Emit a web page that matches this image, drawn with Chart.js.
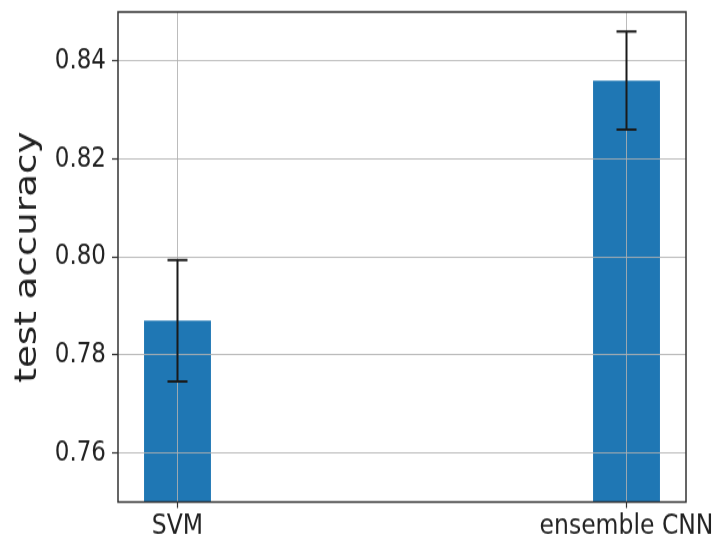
<!DOCTYPE html>
<html>
<head>
<meta charset="utf-8">
<script src="https://cdn.jsdelivr.net/npm/chart.js@4/dist/chart.umd.min.js"></script>
<style>
  html, body { margin: 0; padding: 0; background: #fff; }
  /* drawing buffer is 719x451, shown stretched to the full 541px height */
  #c { display: block; width: 719px; height: 541px; }
</style>
</head>
<body>
<canvas id="c" width="719" height="451" style="width:719px;height:541px"></canvas>
<script>
// Models compared and their mean test accuracy with spread
const categories = ['SVM', 'ensemble CNN'];
const positions = [0, 1];
const accuracy = [0.787, 0.836];
const accuracyErr = [0.0124, 0.010];
const yTicks = [0.76, 0.78, 0.80, 0.82, 0.84];

const FONT = "'DejaVu Sans', sans-serif";
const GRID = 'rgba(176,176,176,0.85)';

// Whiskers with caps, drawn on top of bars and grid
const errorBars = {
  id: 'errorBars',
  afterDraw(chart) {
    const ctx = chart.ctx;
    const xs = chart.scales.x, ys = chart.scales.y;
    ctx.save();
    ctx.strokeStyle = '#1a1a1a';
    ctx.lineWidth = 2;
    accuracy.forEach((v, i) => {
      const x = xs.getPixelForValue(positions[i]);
      const top = ys.getPixelForValue(v + accuracyErr[i]);
      const bot = ys.getPixelForValue(v - accuracyErr[i]);
      ctx.beginPath();
      ctx.moveTo(x, top); ctx.lineTo(x, bot);
      ctx.moveTo(x - 10, top); ctx.lineTo(x + 10, top);
      ctx.moveTo(x - 10, bot); ctx.lineTo(x + 10, bot);
      ctx.stroke();
    });
    ctx.restore();
  }
};

// Box around the plotting area
const frame = {
  id: 'frame',
  afterDraw(chart) {
    const a = chart.chartArea, ctx = chart.ctx;
    ctx.save();
    ctx.strokeStyle = '#333';
    ctx.lineWidth = 1.5;
    ctx.strokeRect(a.left, a.top, a.right - a.left, a.bottom - a.top);
    ctx.restore();
  }
};

new Chart(document.getElementById('c'), {
  type: 'bar',
  data: {
    datasets: [{
      data: positions.map((p, i) => ({ x: p, y: accuracy[i] })),
      backgroundColor: '#1f77b4',
      borderWidth: 0,
      barPercentage: 0.149,
      categoryPercentage: 1,
      clip: 0
    }]
  },
  options: {
    responsive: false,
    animation: false,
    devicePixelRatio: 1,
    layout: { padding: { top: 10, right: 33, left: 0, bottom: 0 } },
    plugins: { legend: { display: false }, tooltip: { enabled: false } },
    scales: {
      x: {
        type: 'linear',
        min: -0.1325,
        max: 1.1325,
        offset: false,
        afterBuildTicks: (axis) => { axis.ticks = positions.map(v => ({ value: v })); },
        afterFit: (axis) => { axis.height = 32.5; axis.paddingLeft = 0; axis.paddingRight = 0; },
        ticks: {
          callback: (v) => categories[positions.indexOf(v)],
          font: { family: FONT, size: 23.5 },
          color: '#222',
          padding: 1,
          maxRotation: 0,
          autoSkip: false
        },
        grid: { z: 1, offset: false, color: GRID, lineWidth: 1, tickLength: 5, tickColor: '#333', tickWidth: 1.2 },
        border: { display: false }
      },
      y: {
        min: 0.75,
        max: 0.85,
        afterBuildTicks: (axis) => { axis.ticks = yTicks.map(v => ({ value: v })); },
        afterFit: (axis) => { axis.width = 118; axis.paddingTop = 0; axis.paddingBottom = 0; },
        ticks: {
          callback: (v) => v.toFixed(2),
          font: { family: FONT, size: 23 },
          color: '#222',
          padding: 6
        },
        grid: { z: 1, color: GRID, lineWidth: 1, tickLength: 6, tickColor: '#333', tickWidth: 1.2 },
        border: { display: false },
        title: {
          display: true,
          text: 'test accuracy',
          font: { family: FONT, size: 31 },
          color: '#222',
          padding: { top: 9, bottom: 0 }
        }
      }
    }
  },
  plugins: [errorBars, frame]
});
</script>
</body>
</html>
